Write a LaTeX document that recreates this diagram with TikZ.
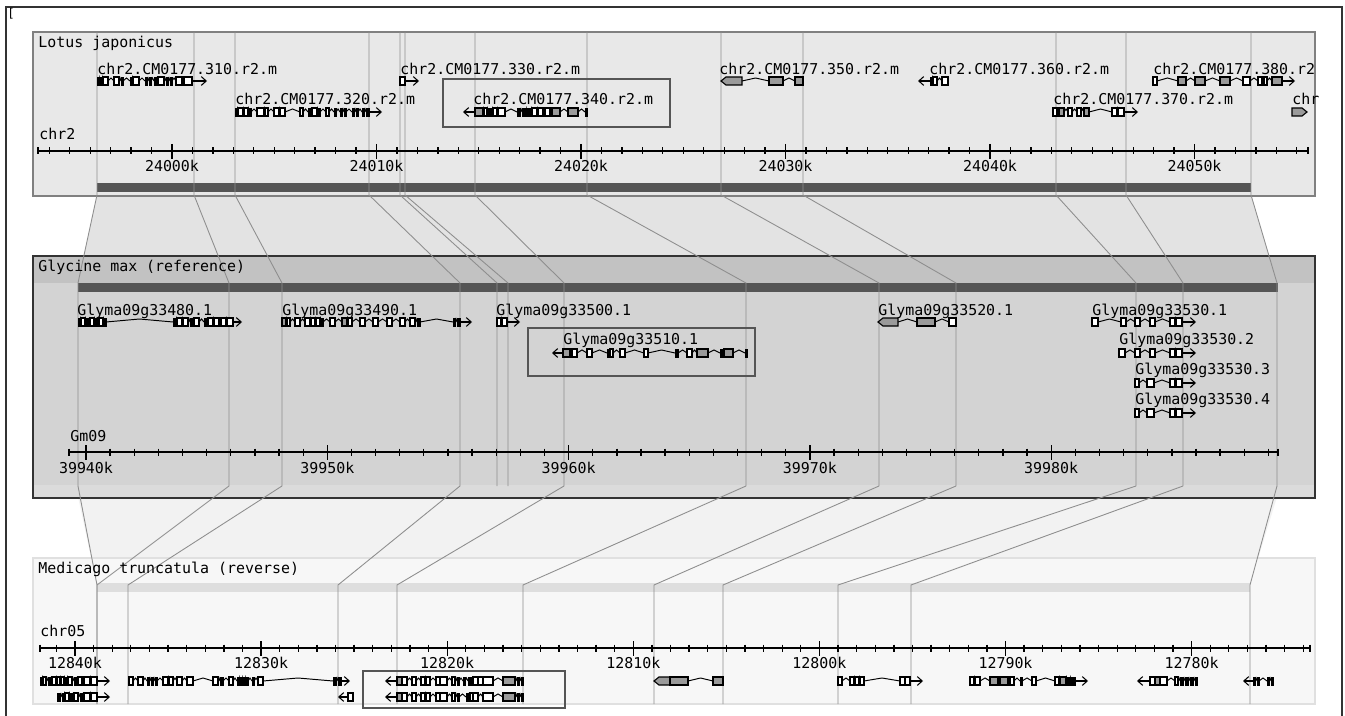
\documentclass[tikz,border=0pt]{standalone}
\usepackage{fontspec}
\setmonofont{DejaVu Sans Mono}
\usetikzlibrary{arrows.meta}

\definecolor{lotusbg}{HTML}{E8E8E8}
\definecolor{glybg}{HTML}{D3D3D3}
\definecolor{glyhead}{HTML}{C2C2C2}
\definecolor{glyfoot}{HTML}{DBDBDB}
\definecolor{medbg}{HTML}{F7F7F7}
\definecolor{medbar}{HTML}{DEDEDE}
\definecolor{darkbar}{HTML}{555555}
\definecolor{exgray}{HTML}{9A9A9A}
\definecolor{hspline}{HTML}{8E8E8E}

\tikzset{
  lbl/.style={font=\ttfamily\fontsize{8.5}{10}\selectfont, inner sep=0pt, anchor=base west},
  ticklbl/.style={font=\ttfamily\fontsize{8.5}{10}\selectfont, inner sep=0pt, anchor=base},
  ruler/.style={line width=0.75pt, black},
  hsp/.style={draw=hspline, line width=0.5pt},
  hibox/.style={draw=darkbar, line width=1.4pt},
  intron/.style={line width=0.55pt, black},
  exk/.style={fill=black, draw=black, line width=0.45pt},
  exw/.style={fill=white, draw=black, line width=0.65pt},
  exg/.style={fill=exgray, draw=black, line width=0.65pt},
  gearrow/.style={line width=0.6pt, -{Straight Barb[length=2.8pt,width=5pt]}}
}

% exons with hat-shaped introns between them: y, start, list x1/x2/style
\newcommand{\exonrow}[3]{%
  \foreach \xa/\xb/\st [remember=\xb as \xp (initially #2)] in {#3}{
    \draw[intron] (\xp,#1) -- ({(\xp+\xa)/2},#1-3) -- (\xa,#1);
    \draw[\st] (\xa,#1-4) rectangle (\xb,#1+4);
  }
}
% pointed gray exon: y, tip x, far x, tip offset
\newcommand{\ptexon}[4]{%
  \draw[exg] (#2,#1) -- (#2+#4,#1-4) -- (#3,#1-4) -- (#3,#1+4) -- (#2+#4,#1+4) -- cycle;
}

\begin{document}
\begin{tikzpicture}[x=0.02cm, y=-0.02cm]
\useasboundingbox (0,0) rectangle (1345,716);

% outer frame
\draw[line width=1.2pt, black!80] (6,716) -- (6,7) -- (1342,7) -- (1342,716);
\node[font=\ttfamily\fontsize{7}{7}\selectfont, inner sep=0pt, anchor=north west] (corner) at (7,8) {[};

% shaded regions between the panels
\fill[black!11] (97,195) -- (1251,195) -- (1277,283) -- (78,283) -- cycle;
\fill[black!5] (78,497) -- (1277,497) -- (1250,585) -- (97,585) -- cycle;

% Lotus panel
\draw[draw=black!50, fill=lotusbg, line width=0.8pt] (33,32) rectangle (1315,196);
\fill[darkbar] (97,183) rectangle (1251,192);

% Glycine panel
\draw[draw=black!80, fill=glybg, line width=1.5pt] (33,256) rectangle (1315,498);
\fill[glyhead] (34,257) rectangle (1314,283);
\fill[glyfoot] (34,485) rectangle (1314,497);
\fill[darkbar] (78,283) rectangle (1278,292);

% Medicago panel
\draw[draw=black!12, fill=medbg, line width=0.8pt] (33,558) rectangle (1315,704);
\fill[medbar] (97,583) rectangle (1250,592);

% HSP connectors Lotus -> Glycine
\foreach \xt/\xm in {97/78,194/229,235/282,369/460,400/497,405/508,475/564,
                     587/746,721/879,803/956,1056/1136,1126/1183,1251/1277}{
  \draw[hsp] (\xt,32) -- (\xt,195) -- (\xm,283) -- (\xm,486);
}
% HSP connectors Glycine -> Medicago
\foreach \xm/\xb in {78/97,229/97,282/128,460/338,564/397,746/523,
                     879/654,956/723,1136/838,1183/911,1277/1250}{
  \draw[hsp] (\xm,486) -- (\xb,585) -- (\xb,704);
}

% titles
\node[lbl] (tlotus) at (38,48) {Lotus japonicus};
\node[lbl] (tgly) at (38,272) {Glycine max (reference)};
\node[lbl] (tmed) at (38,573) {Medicago truncatula (reverse)};

% ---- Lotus ruler
\node[lbl] (chrtwo) at (39,140) {chr2};
\draw[ruler] (38,151) -- (1308,151);
\draw[ruler] (38,147.5) -- ++(0,7);
\draw[ruler] (1308,147.5) -- ++(0,7);
\foreach \k in {-6,...,55} \draw[ruler] ({172+\k*20.45},147.5) -- ++(0,7);
\foreach \k/\t in {0/24000k,10/24010k,20/24020k,30/24030k,40/24040k,50/24050k}{
  \draw[ruler] ({172+\k*20.45},144) -- ++(0,15);
  \node[ticklbl] (lt\k) at ({172+\k*20.45},172) {\t};
}

% ---- Glycine ruler
\node[lbl] (gmnine) at (70,441) {Gm09};
\draw[ruler] (69,452) -- (1278,452);
\draw[ruler] (69,448.5) -- ++(0,7);
\draw[ruler] (1278,448.5) -- ++(0,7);
\foreach \k in {0,...,49} \draw[ruler] ({86+\k*24.13},448.5) -- ++(0,7);
\foreach \k/\t in {0/39940k,10/39950k,20/39960k,30/39970k,40/39980k}{
  \draw[ruler] ({86+\k*24.13},445) -- ++(0,15);
  \node[ticklbl] (gt\k) at ({86+\k*24.13},473) {\t};
}

% ---- Medicago ruler
\node[lbl] (chrfive) at (40,636) {chr05};
\draw[ruler] (40,648) -- (1310,648);
\draw[ruler] (40,644.5) -- ++(0,7);
\draw[ruler] (1310,644.5) -- ++(0,7);
\foreach \k in {-1,...,66} \draw[ruler] ({75+\k*18.61},644.5) -- ++(0,7);
\foreach \k/\t in {0/12840k,10/12830k,20/12820k,30/12810k,40/12800k,50/12790k,60/12780k}{
  \draw[ruler] ({75+\k*18.61},641) -- ++(0,15);
  \node[ticklbl] (mt\k) at ({75+\k*18.61},668) {\t};
}

% ---- Lotus genes
\node[lbl] (ljthreeten) at (97,75) {chr2.CM0177.310.r2.m};
\exonrow{81}{97}{97/99/exk,100/102/exk,103/108/exw,114/119/exw,121/123/exk,130/132/exk,
  133/139/exw,145/147/exk,149/151/exk,154/156/exk,158/164/exw,166/168/exk,170/172/exk,
  176/182/exw,184/192/exw}
\draw[gearrow] (192,81) -- (207,81);

\node[lbl] (ljthreetwenty) at (235,105) {chr2.CM0177.320.r2.m};
\exonrow{112}{235}{235/237/exk,238/243/exw,244/248/exw,249/251/exk,257/264/exw,265/268/exw,
  274/279/exw,280/285/exw,300/303/exw,308/310/exk,312/317/exw,318/320/exk,326/329/exw,
  334/336/exk,340/342/exk,344/346/exk,352/354/exk,356/358/exk,362/364/exk,366/369/exk}
\draw[gearrow] (369,112) -- (382,112);

\node[lbl] (ljthreethirty) at (400,75) {chr2.CM0177.330.r2.m};
\exonrow{81}{400}{400/405/exw}
\draw[gearrow] (405,81) -- (419,81);

\node[lbl] (ljthreeforty) at (473,105) {chr2.CM0177.340.r2.m};
\exonrow{112}{475}{475/483/exg,484/487/exw,488/492/exk,493/497/exw,498/505/exw,517/520/exk,
  522/526/exk,527/531/exk,532/537/exw,538/543/exw,545/550/exw,552/560/exg,568/578/exg,585/587/exk}
\draw[gearrow] (475,112) -- (463,112);
\draw[hibox] (443,79) rectangle (670,127);

\node[lbl] (ljthreefifty) at (719,75) {chr2.CM0177.350.r2.m};
\ptexon{81}{721}{742}{5}
\exonrow{81}{742}{769/783/exg,795/803/exg}

\node[lbl] (ljthreesixty) at (929,75) {chr2.CM0177.360.r2.m};
\exonrow{81}{930}{930/932/exk,933/937/exw,942/948/exw}
\draw[gearrow] (930,81) -- (918,81);

\node[lbl] (ljthreeeighty) at (1153,75) {chr2.CM0177.380.r2};
\exonrow{81}{1153}{1153/1157/exw,1178/1186/exg,1195/1205/exg,1220/1230/exg,1243/1250/exw,
  1258/1262/exw,1264/1267/exw,1272/1282/exg}
\draw[gearrow] (1282,81) -- (1295,81);

\node[lbl] (ljthreeseventy) at (1053,105) {chr2.CM0177.370.r2.m};
\exonrow{112}{1053}{1053/1057/exw,1059/1064/exg,1068/1072/exw,1077/1081/exw,1084/1089/exg,
  1112/1117/exw,1118/1124/exw}
\draw[gearrow] (1124,112) -- (1138,112);

\node[lbl] (ljstub) at (1292,105) {chr};
\ptexon{112}{1307}{1292}{-5}

% ---- Glycine genes
\node[lbl] (gmeighty) at (77,315) {Glyma09g33480.1};
\exonrow{322}{78}{78/80/exk,81/85/exw,86/88/exk,90/94/exw,95/97/exk,99/103/exw,104/106/exk,
  173/176/exk,177/182/exw,183/188/exw,190/192/exk,194/199/exw,204/206/exk,208/213/exw,
  214/219/exw,221/226/exw,227/233/exw}
\draw[gearrow] (233,322) -- (242,322);

\node[lbl] (gmninety) at (282,315) {Glyma09g33490.1};
\exonrow{322}{282}{282/286/exg,287/290/exw,295/300/exw,305/310/exw,311/315/exw,316/320/exw,
  321/323/exk,330/335/exw,342/347/exg,348/352/exw,360/365/exw,373/378/exw,387/392/exw,
  400/405/exw,410/415/exw,417/420/exk,453/455/exk,457/460/exk}
\draw[gearrow] (460,322) -- (472,322);

\node[lbl] (gmhundred) at (496,315) {Glyma09g33500.1};
\exonrow{322}{497}{497/501/exw,502/507/exw}
\draw[gearrow] (507,322) -- (520,322);

\node[lbl] (gmten) at (563,344) {Glyma09g33510.1};
\exonrow{353}{563}{563/570/exg,572/577/exw,587/592/exw,607/610/exk,610/613/exw,620/625/exw,
  644/648/exw,675/678/exk,687/692/exw,697/708/exg,720/724/exk,724/733/exg,745/747/exk}
\draw[gearrow] (563,353) -- (552,353);
\draw[hibox] (528,328) rectangle (755,376);

\node[lbl] (gmtwenty) at (878,315) {Glyma09g33520.1};
\ptexon{322}{878}{898}{5}
\exonrow{322}{898}{917/935/exg,949/956/exw}

\node[lbl] (gmthirtyone) at (1092,315) {Glyma09g33530.1};
\exonrow{322}{1092}{1092/1098/exw,1121/1126/exw,1135/1140/exw,1150/1155/exw,1170/1175/exw,1176/1182/exw}
\draw[gearrow] (1182,322) -- (1196,322);

\node[lbl] (gmthirtytwo) at (1119,344) {Glyma09g33530.2};
\exonrow{353}{1119}{1119/1125/exw,1135/1140/exw,1150/1155/exw,1170/1175/exw,1176/1182/exw}
\draw[gearrow] (1182,353) -- (1196,353);

\node[lbl] (gmthirtythree) at (1135,374) {Glyma09g33530.3};
\exonrow{383}{1135}{1135/1139/exw,1147/1154/exw,1170/1175/exw,1176/1182/exw}
\draw[gearrow] (1182,383) -- (1196,383);

\node[lbl] (gmthirtyfour) at (1135,404) {Glyma09g33530.4};
\exonrow{413}{1135}{1135/1139/exw,1147/1154/exw,1170/1175/exw,1176/1182/exw}
\draw[gearrow] (1182,413) -- (1196,413);

% ---- Medicago genes
\exonrow{681}{40}{40/42/exk,43/46/exw,48/50/exk,52/56/exw,57/60/exw,61/64/exw,65/67/exk,
  68/72/exw,74/76/exk,78/82/exw,84/90/exw,91/97/exw}
\draw[gearrow] (97,681) -- (110,681);
\exonrow{697}{57}{57/60/exk,62/64/exk,65/69/exw,70/72/exk,74/78/exw,80/82/exk,84/90/exw,91/97/exw}
\draw[gearrow] (97,697) -- (110,697);

\exonrow{681}{129}{129/133/exw,138/143/exw,147/149/exk,151/153/exk,155/157/exk,163/168/exw,
  169/173/exw,177/182/exw,187/193/exw,213/218/exw,220/223/exk,229/233/exw,237/239/exk,
  240/242/exk,243/245/exk,246/248/exk,252/254/exk,258/263/exw,333/336/exk,338/341/exk}
\draw[gearrow] (341,681) -- (350,681);

\exonrow{697}{348}{348/353/exw}
\draw[gearrow] (348,697) -- (338,697);

\exonrow{681}{397}{397/402/exg,402/407/exw,412/416/exw,421/425/exw,426/430/exw,436/440/exw,
  440/447/exw,452/455/exw,457/459/exk,463/465/exk,468/470/exk,470/473/exk,473/478/exw,
  478/483/exw,483/493/exw,503/515/exg,517/519/exk,521/523/exk}
\draw[gearrow] (397,681) -- (385,681);
\exonrow{697}{397}{397/402/exg,402/407/exw,412/416/exw,421/425/exw,426/430/exw,436/440/exw,
  440/447/exw,452/455/exw,457/459/exk,466/468/exk,470/473/exw,473/478/exw,483/493/exw,
  503/515/exg,517/519/exk,521/523/exk}
\draw[gearrow] (397,697) -- (385,697);
\draw[hibox] (363,671) rectangle (565,708);

\ptexon{681}{654}{670}{5}
\exonrow{681}{670}{670/688/exg,713/723/exg}

\exonrow{681}{838}{838/842/exw,850/854/exw,855/859/exw,860/864/exw,900/905/exw,905/910/exw}
\draw[gearrow] (910,681) -- (923,681);

\exonrow{681}{970}{970/974/exw,975/980/exw,990/998/exg,1000/1008/exg,1010/1014/exw,
  1020/1022/exk,1032/1036/exw,1055/1059/exw,1060/1066/exg,1067/1070/exk,1071/1075/exk}
\draw[gearrow] (1075,681) -- (1088,681);

\exonrow{681}{1150}{1150/1155/exw,1155/1160/exg,1160/1167/exw,1175/1178/exw,1180/1183/exk,
  1185/1188/exk,1190/1193/exk,1195/1197/exk}
\draw[gearrow] (1150,681) -- (1137,681);

\exonrow{681}{1253}{1253/1255/exk,1257/1259/exk,1267/1269/exk,1271/1273/exk}
\draw[gearrow] (1253,681) -- (1243,681);
\end{tikzpicture}
\end{document}
